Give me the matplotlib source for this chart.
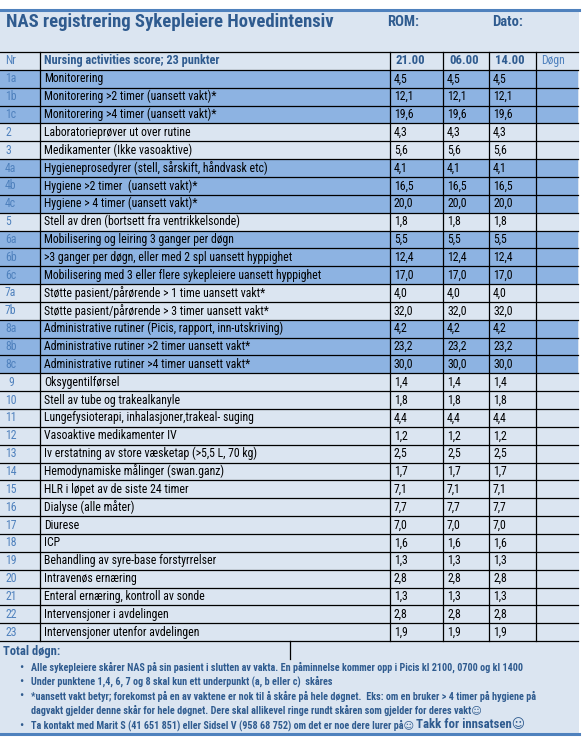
#!/usr/bin/env python3
"""NAS registrering table, drawn as a matplotlib figure in pixel coordinates."""

import matplotlib
matplotlib.use('Agg')
import matplotlib.pyplot as plt
from matplotlib.patches import Rectangle

# --- data ---
row_ids = ['1a', '1b', '1c', '2', '3', '4a', '4b', '4c', '5', '6a', '6b', '6c',
           '7a', '7b', '8a', '8b', '8c', '9', '10', '11', '12', '13', '14', '15',
           '16', '17', '18', '19', '20', '21', '22', '23']
activities = [
    'Monitorering',
    'Monitorering >2 timer (uansett vakt)*',
    'Monitorering >4 timer (uansett vakt)*',
    'Laboratorieprøver ut over rutine',
    'Medikamenter (Ikke vasoaktive)',
    'Hygieneprosedyrer (stell, sårskift, håndvask etc)',
    'Hygiene >2 timer  (uansett vakt)*',
    'Hygiene > 4 timer (uansett vakt)*',
    'Stell av dren (bortsett fra ventrikkelsonde)',
    'Mobilisering og leiring 3 ganger per døgn',
    '>3 ganger per døgn, eller med 2 spl uansett hyppighet',
    'Mobilisering med 3 eller flere sykepleiere uansett hyppighet',
    'Støtte pasient/pårørende > 1 time uansett vakt*',
    'Støtte pasient/pårørende > 3 timer uansett vakt*',
    'Administrative rutiner (Picis, rapport, inn-utskriving)',
    'Administrative rutiner >2 timer uansett vakt*',
    'Administrative rutiner >4 timer uansett vakt*',
    'Oksygentilførsel',
    'Stell av tube og trakealkanyle',
    'Lungefysioterapi, inhalasjoner,trakeal- suging',
    'Vasoaktive medikamenter IV',
    'Iv erstatning av store væsketap (>5,5 L, 70 kg)',
    'Hemodynamiske målinger (swan.ganz)',
    'HLR i løpet av de siste 24 timer',
    'Dialyse (alle måter)',
    'Diurese',
    'ICP',
    'Behandling av syre-base forstyrrelser',
    'Intravenøs ernæring',
    'Enteral ernæring, kontroll av sonde',
    'Intervensjoner i avdelingen',
    'Intervensjoner utenfor avdelingen',
]
scores = [4.5, 12.1, 19.6, 4.3, 5.6, 4.1, 16.5, 20.0, 1.8, 5.5, 12.4, 17.0,
          4.0, 32.0, 4.2, 23.2, 30.0, 1.4, 1.8, 4.4, 1.2, 2.5, 1.7, 7.1,
          7.7, 7.0, 1.6, 1.3, 2.8, 1.3, 2.8, 1.9]
shifts = ['21.00', '06.00', '14.00']
# sub-point groups drawn with the darker blue band
dark_groups = ['1', '4', '6', '8']

notes = [
    'Alle sykepleiere skårer NAS på sin pasient i slutten av vakta. En påminnelse kommer opp i Picis kl 2100, 0700 og kl 1400',
    'Under punktene 1,4, 6, 7 og 8 skal kun ett underpunkt (a, b eller c)  skåres',
    '*uansett vakt betyr; forekomst på en av vaktene er nok til å skåre på hele døgnet.  Eks: om en bruker > 4 timer på hygiene på',
    'dagvakt gjelder denne skår for hele døgnet. Dere skal allikevel ringe rundt skåren som gjelder for deres vakt☺',
    'Ta kontakt med Marit S (41 651 851) eller Sidsel V (958 68 752) om det er noe dere lurer på☺',
]
note_bullet = [True, True, True, False, True]
thanks = 'Takk for innsatsen☺'

# --- style ---
FONT = ['Roboto Condensed', 'DejaVu Sans']
PANEL = '#dbe5f1'
DARK = '#8db3e2'
TITLE_BLUE = '#2f5b8f'
NR_BLUE = '#4f81bd'
EDGE = '#4f81bd'

W, H = 588, 749
fig = plt.figure(figsize=(W / 100, H / 100), dpi=100)
ax = fig.add_axes([0, 0, 1, 1])
ax.set_xlim(0, W)
ax.set_ylim(H, 0)
ax.axis('off')

# panel background + top/bottom rules
ax.add_patch(Rectangle((0, 10), 579, 723, facecolor=PANEL, edgecolor='none'))
ax.plot([0, 579], [9.5, 9.5], color=EDGE, lw=2.2)
ax.plot([0, 579], [733.5, 733.5], color=EDGE, lw=2.2)

ax.text(6, 22, 'NAS registrering Sykepleiere Hovedintensiv', fontsize=13.4,
        fontweight='bold', color=TITLE_BLUE, family=FONT, va='center')
ax.text(387, 22, 'ROM:', fontsize=10.5, fontweight='bold', color=TITLE_BLUE,
        family=FONT, va='center')
ax.text(492, 22, 'Dato:', fontsize=10.5, fontweight='bold', color=TITLE_BLUE,
        family=FONT, va='center')

# table geometry
cols = [0, 40, 390, 443, 489, 536, 578]
top = 52
rh = 17.85
n_rows = len(row_ids) + 1
bottom = top + n_rows * rh

# row shading
for i, rid in enumerate(row_ids):
    y0 = top + (i + 1) * rh
    if rid[-1] in 'abc' and rid[:-1] in dark_groups:
        ax.add_patch(Rectangle((0, y0), cols[-1], rh, facecolor=DARK, edgecolor='none'))

# header row
yc = top + rh / 2
ax.text(5, yc, 'Nr', fontsize=8.5, color=NR_BLUE, family=FONT, va='center')
ax.text(cols[1] + 4, yc, 'Nursing activities score; 23 punkter', fontsize=8.8,
        fontweight='bold', color=TITLE_BLUE, family=FONT, va='center')
for j, s in enumerate(shifts):
    ax.text(cols[2 + j] + 6, yc, s, fontsize=9.2, fontweight='bold',
            color=TITLE_BLUE, family=FONT, va='center')
ax.text(cols[5] + 5, yc, 'Døgn', fontsize=8.5, color=NR_BLUE, family=FONT, va='center')

# body rows
for i, (rid, act, sc) in enumerate(zip(row_ids, activities, scores)):
    yc = top + (i + 1.5) * rh
    xnr = 8 if rid == '9' else 5
    ax.text(xnr, yc, rid, fontsize=8.5, color=NR_BLUE, family=FONT, va='center')
    ax.text(cols[1] + 4, yc, act, fontsize=8.5, color='black', family=FONT, va='center')
    label = f'{sc:.1f}'.replace('.', ',')
    for j in range(len(shifts)):
        ax.text(cols[2 + j] + 4, yc, label, fontsize=8.5, color='black',
                family=FONT, va='center')

# grid lines
for k in range(n_rows + 1):
    y = top + k * rh
    ax.plot([0, cols[-1]], [y, y], color='black', lw=0.9)
for x in cols[1:-1]:
    ax.plot([x, x], [top, bottom], color='black', lw=0.9)
ax.plot([290, 290], [bottom, bottom + 18], color='black', lw=0.9)

# footer
ax.text(3, 651, 'Total døgn:', fontsize=9, fontweight='bold',
        color=TITLE_BLUE, family=FONT, va='center')
note_y = [667, 681, 696, 710, 725]
for y, note, bullet in zip(note_y, notes, note_bullet):
    if bullet:
        ax.text(19, y, '•', fontsize=9, color=TITLE_BLUE, family=FONT, va='center')
    last = ax.text(31, y, note, fontsize=7.3, fontweight='bold', color=TITLE_BLUE,
                   family=FONT, va='center')

# "Takk for innsatsen" follows directly after the last note, in a larger size
fig.canvas.draw()
bb = last.get_window_extent(renderer=fig.canvas.get_renderer())
x_end = ax.transData.inverted().transform((bb.x1, bb.y0))[0]
ax.text(x_end + 2, note_y[-1], thanks, fontsize=9.2, fontweight='bold',
        color=TITLE_BLUE, family=FONT, va='center')

fig.savefig('out.png', dpi=100)
